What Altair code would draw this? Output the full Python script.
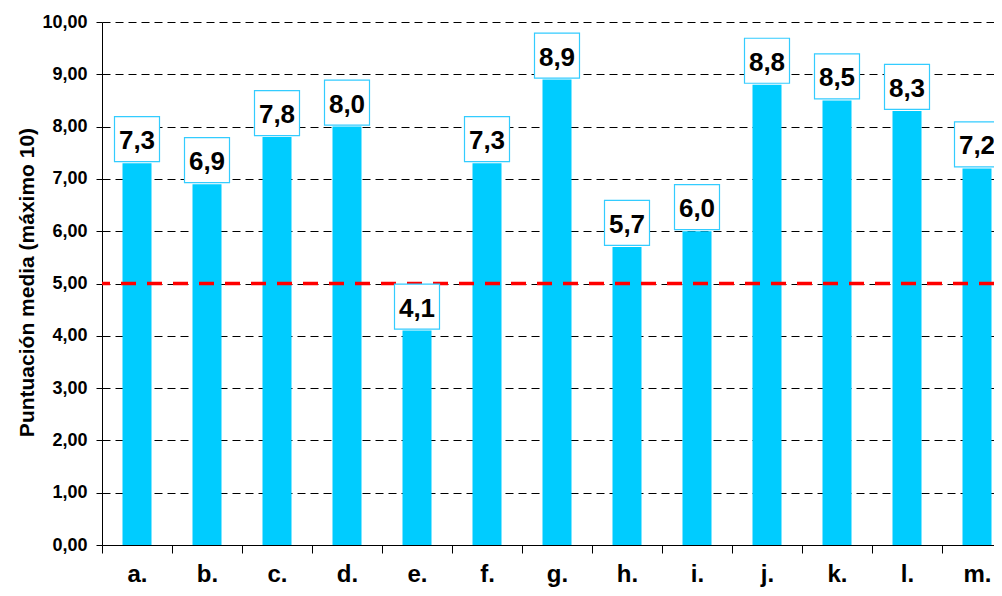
import altair as alt
import pandas as pd

categories = ["a.", "b.", "c.", "d.", "e.", "f.", "g.", "h.", "i.", "j.", "k.", "l.", "m."]
values = [7.3, 6.9, 7.8, 8.0, 4.1, 7.3, 8.9, 5.7, 6.0, 8.8, 8.5, 8.3, 7.2]
y_ticks = [0, 1, 2, 3, 4, 5, 6, 7, 8, 9, 10]
threshold = [5.0]
y_title = "Puntuación media (máximo 10)"

FONT = "Liberation Sans"
BAR = "#00CCFF"

df = pd.DataFrame({"cat": categories, "value": values})
df_thr = pd.DataFrame({"t": threshold})

x_enc = alt.X(
    "cat:N",
    sort=categories,
    scale=alt.Scale(range=[0, 910], paddingInner=0, paddingOuter=0),
    axis=alt.Axis(
        title=None,
        tickBand="extent",
        labelAngle=0,
        labelFont=FONT,
        labelFontSize=24,
        labelFontWeight="bold",
        labelColor="black",
        labelPadding=9,
        tickSize=8,
        tickColor="black",
        domainColor="black",
        grid=False,
    ),
)

y_scale = alt.Scale(domain=[0, 10], nice=False, zero=True)

y_axis = alt.Axis(
    values=y_ticks,
    title=y_title,
    titleFont=FONT,
    titleFontSize=21,
    titleFontWeight="bold",
    titleColor="black",
    titleX=-69,
    titleY=260,
    titleAlign="center",
    titleBaseline="alphabetic",
    labelExpr="replace(format(datum.value, '.2f'), '.', ',')",
    labelFont=FONT,
    labelFontSize=18,
    labelFontWeight="bold",
    labelColor="black",
    labelPadding=9,
    tickSize=6,
    tickColor="black",
    domainColor="black",
    grid=True,
    gridColor="black",
    gridOpacity=1,
    gridDash=[8, 5],
    gridWidth=1,
)

bars = alt.Chart(df).mark_bar(color=BAR, size=29).encode(
    x=x_enc,
    y=alt.Y("value:Q", scale=y_scale, axis=y_axis),
)

rule = alt.Chart(df_thr).mark_rule(
    color="#FF0000", strokeWidth=3.5, strokeDash=[15, 11]
).encode(y=alt.Y("t:Q", scale=y_scale, axis=y_axis))

boxes = alt.Chart(df).mark_square(
    size=45 * 45, fill="white", stroke="#33CCFF", strokeWidth=1.2, opacity=1
).encode(
    x=alt.X("cat:N", sort=categories),
    y=alt.Y("value:Q", scale=y_scale, axis=y_axis),
    yOffset=alt.value(-24),
)

texts = alt.Chart(df).transform_calculate(
    label="replace(format(datum.value, '.1f'), '.', ',')"
).mark_text(
    font=FONT, fontSize=26, fontWeight="bold", color="black", baseline="middle", align="center"
).encode(
    x=alt.X("cat:N", sort=categories),
    y=alt.Y("value:Q", scale=y_scale, axis=y_axis),
    yOffset=alt.value(-22),
    text="label:N",
)

chart = alt.layer(bars, rule, boxes, texts).properties(
    width=892,
    height=523,
    padding={"left": 94, "top": 14, "right": 0, "bottom": 43},
    autosize=alt.AutoSizeParams(type="none"),
).configure_view(stroke=None)

chart.save("out.html", embed_options={"renderer": "svg", "actions": False})
